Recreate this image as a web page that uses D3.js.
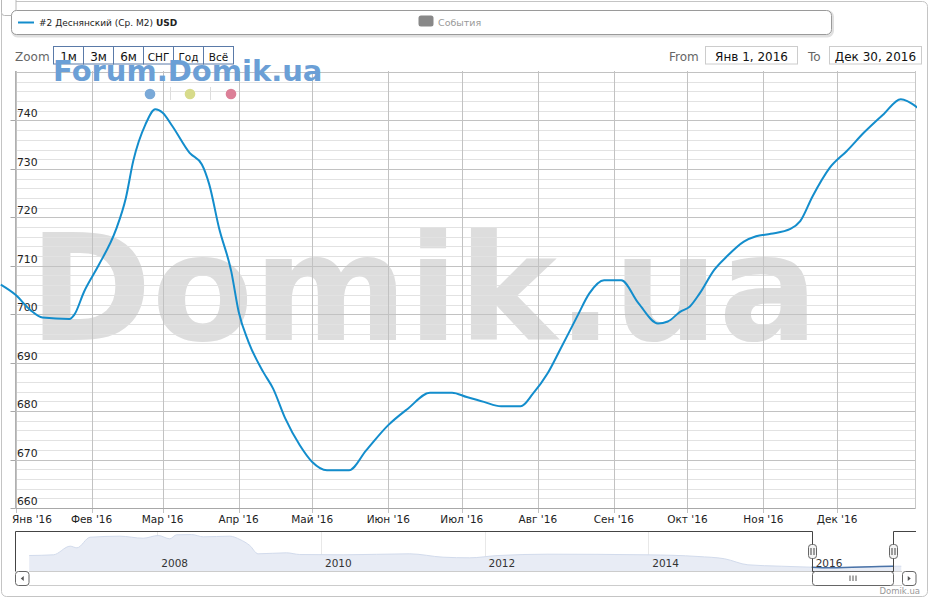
<!DOCTYPE html>
<html><head><meta charset="utf-8">
<script src="https://cdn.jsdelivr.net/npm/d3@7"></script>
<style>body{margin:0;background:#fff}svg{display:block;font-family:"DejaVu Sans",sans-serif}</style>
</head><body><svg id="c" width="931" height="600"></svg>
<script>
// ---- data ----
const dates = ["2015-12-26","2016-01-01","2016-01-07","2016-01-12","2016-01-23","2016-01-25","2016-01-29","2016-02-04","2016-02-11","2016-02-15","2016-02-18","2016-02-23","2016-02-27","2016-03-01","2016-03-05","2016-03-12","2016-03-17","2016-03-20","2016-03-24","2016-03-29","2016-04-01","2016-04-05","2016-04-11","2016-04-15","2016-04-20","2016-04-26","2016-05-01","2016-05-07","2016-05-16","2016-05-23","2016-06-01","2016-06-09","2016-06-18","2016-06-27","2016-07-03","2016-07-10","2016-07-17","2016-07-25","2016-07-30","2016-08-05","2016-08-10","2016-08-17","2016-08-22","2016-08-28","2016-09-04","2016-09-11","2016-09-19","2016-09-23","2016-09-28","2016-10-02","2016-10-06","2016-10-12","2016-10-17","2016-10-24","2016-10-29","2016-11-04","2016-11-12","2016-11-16","2016-11-21","2016-11-28","2016-12-05","2016-12-12","2016-12-20","2016-12-27","2017-01-03"];
const values = [706.1,704.0,700.9,699.3,699.0,699.9,704.7,710.2,717.5,724.0,731.6,739.2,742.3,741.6,738.8,733.3,730.9,726.8,717.8,708.8,700.5,694.3,688.1,684.7,678.5,672.9,669.5,667.8,667.8,671.9,677.1,680.5,683.8,683.8,682.9,681.9,681.0,681.0,683.6,687.8,692.6,699.5,704.3,707.0,707.0,702.3,698.1,698.5,700.5,701.6,704.3,709.2,711.9,715.0,716.1,716.6,717.6,719.2,724.3,730.2,733.7,737.5,741.3,744.4,742.6];
const yTicks = [660,670,680,690,700,710,720,730,740];
const monthLabels = ["Янв '16","Фев '16","Мар '16","Апр '16","Май '16","Июн '16","Июл '16","Авг '16","Сен '16","Окт '16","Ноя '16","Дек '16"];
const navDates = ["2006-06-08","2006-09-24","2006-12-08","2007-01-07","2007-03-07","2007-07-18","2007-10-30","2008-01-05","2008-02-26","2008-03-27","2008-06-02","2008-07-24","2008-11-20","2009-01-04","2009-02-17","2009-03-26","2009-07-31","2009-09-28","2010-04-10","2011-02-01","2011-06-30","2011-10-27","2012-03-01","2012-10-10","2013-12-31","2014-08-11","2014-12-08","2015-03-22","2015-08-18","2015-12-30","2016-03-28","2016-12-28","2017-02-04"];
const navValues = [1128,1153,1461,1403,1782,1818,1746,1843,1725,1868,1878,1796,1818,1700,1486,1189,1225,1164,1153,1189,1068,1046,1128,1175,1153,1093,1011,796,746,711,689,746,746];
const navYearLabels = ["2008","2010","2012","2014","2016"];
const zoomButtons = ["1м","3м","6м","СНГ","Год","Всё"];
const seriesName = "#2 Деснянский (Ср. М2)";
const seriesUnit = "USD";
const eventsName = "События";
const rangeFrom = "Янв 1, 2016", rangeTo = "Дек 30, 2016";
const selStart = "2016-01-01", selEnd = "2016-12-30";

// ---- setup ----
const parse = d3.utcParse("%Y-%m-%d");
const svg = d3.select("#c");
const L = 15.5, R = 915.5, T = 72, B = 508;
const x = d3.scaleUtc().domain([Date.UTC(2016,0,1), Date.UTC(2017,0,2)]).range([L, R]);
const y = d3.scaleLinear().domain([660, 750]).range([B, T]);

// frame
svg.append("rect").attr("x",1.5).attr("y",1.5).attr("width",926).attr("height",595).attr("rx",5)
  .attr("fill","#fff").attr("stroke","#c4c4c4");
svg.append("rect").attr("x",1.5).attr("y",-5).attr("width",14.5).attr("height",20.5).attr("rx",3)
  .attr("fill","#fff").attr("stroke","#b8b8b8");

// big watermark
svg.append("text").attr("x",29).attr("y",340).attr("font-size",148).attr("font-weight","bold")
  .attr("fill","#dddddd").text("Domik.ua");

// grid
const g = svg.append("g");
g.selectAll(".mn").data(d3.range(660, 751, 2).filter(v => v % 10 !== 0)).join("line")
  .attr("x1",L).attr("x2",R).attr("y1",d=>Math.round(y(d))+0.5).attr("y2",d=>Math.round(y(d))+0.5)
  .attr("stroke","#e2e2e2");
g.selectAll(".mj").data(yTicks.concat([750])).join("line")
  .attr("x1",L).attr("x2",R).attr("y1",d=>Math.round(y(d))+0.5).attr("y2",d=>Math.round(y(d))+0.5)
  .attr("stroke","#c2c2c2");
g.selectAll(".yt").data(yTicks).join("line")
  .attr("x1",L-5).attr("x2",L).attr("y1",d=>Math.round(y(d))+0.5).attr("y2",d=>Math.round(y(d))+0.5)
  .attr("stroke","#a8a8a8");
const months = d3.utcMonth.range(new Date(Date.UTC(2016,0,1)), new Date(Date.UTC(2017,0,1)));
g.selectAll(".vg").data(months).join("line")
  .attr("x1",d=>Math.round(x(d))+0.5).attr("x2",d=>Math.round(x(d))+0.5).attr("y1",T-1).attr("y2",B+5)
  .attr("stroke","#c2c2c2");
g.append("line").attr("x1",L).attr("x2",L).attr("y1",T-1).attr("y2",B).attr("stroke","#b0b0b0");
g.append("line").attr("x1",R).attr("x2",R).attr("y1",T-1).attr("y2",B).attr("stroke","#c8c8c8");
g.append("line").attr("x1",L).attr("x2",R).attr("y1",B+0.5).attr("y2",B+0.5).attr("stroke","#a8a8a8");

// y labels
svg.selectAll(".yl").data(yTicks).join("text")
  .attr("x",17).attr("y",d=>y(d)-3).attr("font-size",10.8).attr("fill","#222").text(d=>d);
// x labels
svg.selectAll(".xl").data(months).join("text")
  .attr("x",(d,i)=> i===0 ? 12 : x(d)).attr("y",523)
  .attr("text-anchor",(d,i)=> i===0 ? "start" : "middle")
  .attr("font-size",10.5).attr("fill","#222").text((d,i)=>monthLabels[i]);

// series line
svg.append("clipPath").attr("id","pc").append("rect").attr("x",0).attr("y",T-2).attr("width",R+1.5).attr("height",B-T+2);
const pts = dates.map((d,i)=>[parse(d), values[i]]);
svg.append("path").attr("clip-path","url(#pc)")
  .attr("d", d3.line().x(d=>x(d[0])).y(d=>y(d[1])).curve(d3.curveMonotoneX)(pts))
  .attr("fill","none").attr("stroke","#138dcc").attr("stroke-width",2).attr("stroke-linejoin","round");

// legend box
svg.append("rect").attr("x",12.5).attr("y",11.5).attr("width",820).attr("height",24.5).attr("rx",5)
  .attr("fill","none").attr("stroke","rgba(0,0,0,0.12)").attr("stroke-width",3);
svg.append("rect").attr("x",11.5).attr("y",10.5).attr("width",820).attr("height",24).attr("rx",5)
  .attr("fill","#fff").attr("stroke","#9a9a9a");
svg.append("line").attr("x1",18).attr("x2",34).attr("y1",22.5).attr("y2",22.5).attr("stroke","#138dcc").attr("stroke-width",2);
const lt = svg.append("text").attr("x",39).attr("y",25.5).attr("font-size",9).attr("fill","#222");
lt.append("tspan").text(seriesName + " ");
lt.append("tspan").attr("font-weight","bold").text(seriesUnit);
svg.append("rect").attr("x",418.5).attr("y",15.5).attr("width",15).attr("height",11).attr("rx",2.5).attr("fill","#888");
svg.append("text").attr("x",438).attr("y",25.5).attr("font-size",9.5).attr("fill","#999").text(eventsName);

// zoom row
svg.append("text").attr("x",15).attr("y",61).attr("font-size",12).attr("fill","#666").text("Zoom");
const bz = svg.selectAll(".bz").data(zoomButtons).join("g").attr("transform",(d,i)=>`translate(${53.5+i*30},46.5)`);
bz.append("rect").attr("width",30).attr("height",17.5).attr("fill","#fff").attr("stroke","#5a7aa8");
bz.append("text").attr("x",15).attr("y",14).attr("text-anchor","middle").attr("font-size",d=>d.length>2?10.5:12)
  .attr("fill","#111").text(d=>d);
svg.append("text").attr("x",669).attr("y",61).attr("font-size",12).attr("fill","#666").text("From");
svg.append("rect").attr("x",705.5).attr("y",46.5).attr("width",92).attr("height",17.5).attr("fill","#fff").attr("stroke","#ccc");
svg.append("text").attr("x",751.5).attr("y",60.5).attr("text-anchor","middle").attr("font-size",12).attr("fill","#111").text(rangeFrom);
svg.append("text").attr("x",808).attr("y",61).attr("font-size",12).attr("fill","#666").text("To");
svg.append("rect").attr("x",829.5).attr("y",46.5).attr("width",92).attr("height",17.5).attr("fill","#fff").attr("stroke","#ccc");
svg.append("text").attr("x",875.5).attr("y",60.5).attr("text-anchor","middle").attr("font-size",12).attr("fill","#111").text(rangeTo);

// blue watermark
svg.append("text").attr("x",53).attr("y",81).attr("font-size",29).attr("font-weight","bold")
  .attr("fill","#6b9fd6").text("Forum.Domik.ua");

// dots
const dots = [[150,"#7aa9d8"],[190,"#d7db8b"],[231,"#dc7f97"]];
svg.selectAll(".sep").data([170.5,210.5]).join("line").attr("x1",d=>d).attr("x2",d=>d).attr("y1",87).attr("y2",100).attr("stroke","#ddd");
svg.selectAll(".dt").data(dots).join("circle").attr("cx",d=>d[0]).attr("cy",94).attr("r",5.3).attr("fill",d=>d[1]);

// ---- navigator ----
const NT = 531.5, NB = 571.5, NL = 15, NR = 916;
const xN = d3.scaleUtc().domain([Date.UTC(2008,0,1), Date.UTC(2016,0,1)]).range([157.3, 811.7]);
const yN = d3.scaleLinear().domain([557, 1986]).range([NB, NT]);
const navPts = navDates.map((d,i)=>[parse(d), navValues[i]]);
const years = navYearLabels.map(s => new Date(Date.UTC(+s,0,1)));
svg.selectAll(".ng").data(years).join("line").attr("x1",d=>Math.round(xN(d))+0.5).attr("x2",d=>Math.round(xN(d))+0.5)
  .attr("y1",NT).attr("y2",NB).attr("stroke","#e8e8e8");
svg.append("path").attr("d", d3.area().x(d=>xN(d[0])).y0(NB).y1(d=>yN(d[1])).curve(d3.curveMonotoneX)(navPts))
  .attr("fill","#e8ecf5");
svg.append("path").attr("d", d3.line().x(d=>xN(d[0])).y(d=>yN(d[1])).curve(d3.curveMonotoneX)(navPts))
  .attr("fill","none").attr("stroke","#d2dbec").attr("stroke-width",1);
const s0 = xN(parse(selStart)), s1 = xN(parse(selEnd));
svg.append("clipPath").attr("id","sc").append("rect").attr("x",s0).attr("y",NT).attr("width",s1-s0).attr("height",NB-NT);
svg.append("path").attr("clip-path","url(#sc)")
  .attr("d", d3.line().x(d=>xN(d[0])).y(d=>yN(d[1])).curve(d3.curveMonotoneX)(navPts))
  .attr("fill","none").attr("stroke","#4a73a8").attr("stroke-width",1.5);
svg.selectAll(".ny").data(years).join("text").attr("x",d=>xN(d)+4).attr("y",567)
  .attr("font-size",10.5).attr("fill","#333").text((d,i)=>navYearLabels[i]);
svg.append("line").attr("x1",29).attr("x2",902).attr("y1",NB).attr("y2",NB).attr("stroke","#ccc");
const a0 = Math.round(s0)+0.5, a1 = Math.round(s1)+0.5;
svg.append("path").attr("d",`M${NL+0.5},${NB} L${NL+0.5},${NT} L${a0},${NT} L${a0},${NB} L${a1},${NB} L${a1},${NT} L${NR},${NT}`)
  .attr("fill","none").attr("stroke","#444");
[a0,a1].forEach(h=>{
  svg.append("rect").attr("x",h-4).attr("y",544.5).attr("width",8).attr("height",14).attr("rx",3).attr("fill","#f4f4f4").attr("stroke","#666");
  [h-1.5,h+1.5].forEach(v=>svg.append("line").attr("x1",v).attr("x2",v).attr("y1",548).attr("y2",555).attr("stroke","#444"));
});
svg.append("line").attr("x1",29).attr("x2",902).attr("y1",585.5).attr("y2",585.5).attr("stroke","#ccc");
svg.append("rect").attr("x",a0).attr("y",NB).attr("width",a1-a0).attr("height",14).attr("rx",3).attr("fill","#fff").attr("stroke","#666");
[-3,0,3].forEach(o=>svg.append("line").attr("x1",(a0+a1)/2+o).attr("x2",(a0+a1)/2+o).attr("y1",575.5).attr("y2",581).attr("stroke","#555"));
[[15.5,-1],[902.5,1]].forEach(([bx,dir])=>{
  svg.append("rect").attr("x",bx).attr("y",NB).attr("width",13.5).attr("height",14).attr("rx",3).attr("fill","#fff").attr("stroke","#666");
  const cx = bx+6.75, cy = NB+7;
  svg.append("path").attr("d",`M${cx-1.5*dir},${cy-2.5} L${cx+1.5*dir},${cy} L${cx-1.5*dir},${cy+2.5}Z`).attr("fill","#555");
});
svg.append("text").attr("x",920).attr("y",594).attr("text-anchor","end").attr("font-size",8.5).attr("fill","#999").text("Domik.ua");
</script></body></html>
